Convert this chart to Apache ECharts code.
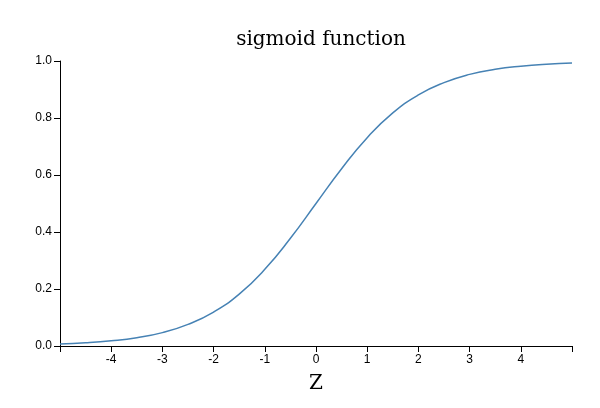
<!DOCTYPE html>
<html>
<head>
<meta charset="utf-8">
<script src="https://cdn.jsdelivr.net/npm/echarts@6/dist/echarts.min.js"></script>
<style>
  html, body { margin: 0; padding: 0; background: #fff; }
  #chart { width: 600px; height: 408px; }
</style>
</head>
<body>
<div id="chart"></div>
<script>
// values
const zValues = [-5, -4.5, -4, -3.5, -3, -2.5, -2, -1.5, -1, -0.5, 0, 0.5, 1, 1.5, 2, 2.5, 3, 3.5, 4, 4.5, 5];
const sigmaValues = [0.007, 0.011, 0.018, 0.029, 0.047, 0.076, 0.119, 0.182, 0.269, 0.378, 0.5,
  0.622, 0.731, 0.818, 0.881, 0.924, 0.953, 0.971, 0.982, 0.989, 0.993];

const chart = echarts.init(document.getElementById("chart"));
chart.setOption({
  animation: false,
  title: {
    text: "sigmoid function",
    left: 316, top: 25, textAlign: "center",
    textStyle: { fontFamily: "DejaVu Serif", fontWeight: "normal", fontSize: 20, color: "#000" }
  },
  grid: { left: 60, right: 28, top: 61, bottom: 62 },
  xAxis: {
    type: "value", min: -5, max: 5, interval: 1,
    name: "Z", nameLocation: "middle", nameGap: 28,
    nameTextStyle: { fontFamily: "DejaVu Serif", fontSize: 20, color: "#000" },
    axisLine: { onZero: false, lineStyle: { color: "#000" } },
    axisTick: { length: 6, lineStyle: { color: "#000" } },
    splitLine: { show: false },
    axisLabel: { color: "#000", fontSize: 12, formatter: (v) => (Math.abs(v) === 5 ? "" : String(v)) }
  },
  yAxis: {
    type: "value", min: 0, max: 1, interval: 0.2,
    axisLine: { show: true, onZero: false, lineStyle: { color: "#000" } },
    axisTick: { show: true, length: 6, lineStyle: { color: "#000" } },
    splitLine: { show: false },
    axisLabel: { color: "#000", fontSize: 12, formatter: (v) => v.toFixed(1) }
  },
  series: [{
    type: "line", smooth: true, showSymbol: false,
    data: zValues.map((z, i) => [z, sigmaValues[i]]),
    lineStyle: { color: "#4682b4", width: 1.5 }
  }]
});
</script>
</body>
</html>
